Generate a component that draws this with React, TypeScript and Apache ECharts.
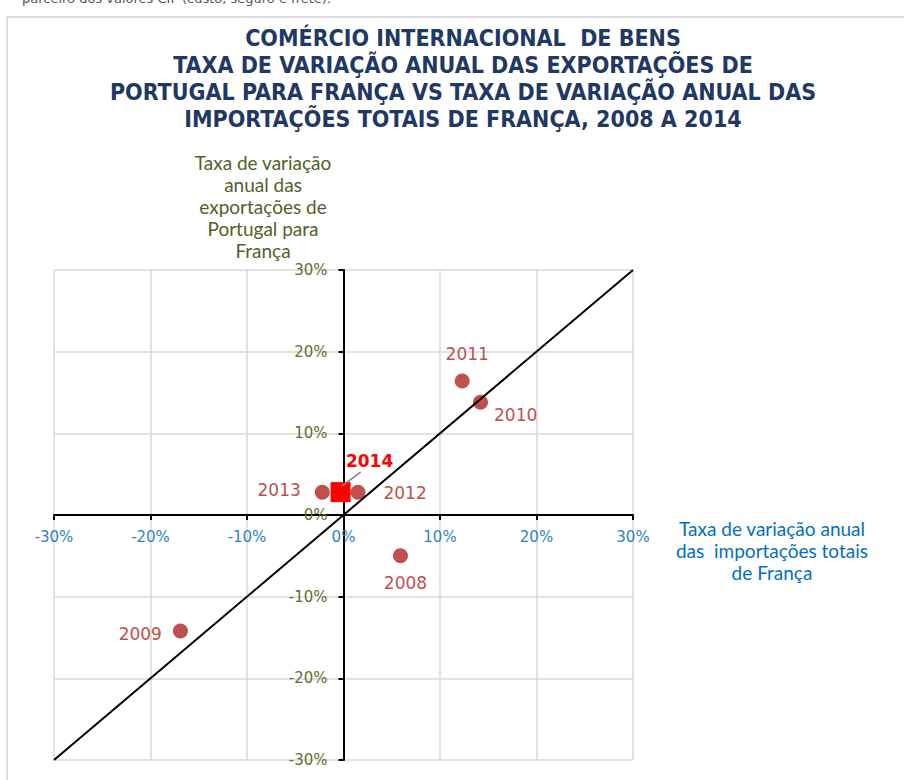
import React, { useEffect, useRef } from 'react';
import * as echarts from 'echarts';

// Data (percent)
const years = ['2008', '2009', '2010', '2011', '2012', '2013'];
const importsFrance = [5.9, -16.9, 14.2, 12.3, 1.5, -2.2];
const exportsPortugal = [-5.0, -14.2, 13.8, 16.4, 2.8, 2.8];
const highlightYear = '2014';
const highlightImports = -0.3;
const highlightExports = 2.8;
const diagonalX = [-30, 30];
const diagonalY = [-30, 30];
const axisMin = -30;
const axisMax = 30;
const axisStep = 10;

const titleLines = [
  'COMÉRCIO INTERNACIONAL  DE BENS',
  'TAXA DE VARIAÇÃO ANUAL DAS EXPORTAÇÕES DE',
  'PORTUGAL PARA FRANÇA VS TAXA DE VARIAÇÃO ANUAL DAS',
  'IMPORTAÇÕES TOTAIS DE FRANÇA, 2008 A 2014',
];
const yTitleLines = ['Taxa de variação', 'anual das', 'exportações de', 'Portugal para', 'França'];
const xTitleLines = ['Taxa de variação anual', 'das  importações totais', 'de França'];
const topNote = 'parceiro dos valores CIF (custo, seguro e frete).';

// label placement per point (style, not data)
const labelPlacement: any[] = [
  { position: 'bottom', distance: 11, offset: [5, 0] },
  { position: 'left', distance: 11, offset: [0, 3] },
  { position: 'right', distance: 6, offset: [0, 13] },
  { position: 'top', distance: 11, offset: [5, 0] },
  { position: 'right', distance: 18, offset: [0, 1] },
  { position: 'left', distance: 14, offset: [0, -2] },
];

const POINT_COLOR = '#c0504d';
const GRID = { left: 54, right: 271, top: 270, bottom: 20 };
const W = 904;
const H = 780;
const gridW = W - GRID.left - GRID.right;
const gridH = H - GRID.top - GRID.bottom;
// where zero sits inside the grid
const zeroFromBottom = (gridH * (0 - axisMin)) / (axisMax - axisMin);
const zeroFromLeft = (gridW * (0 - axisMin)) / (axisMax - axisMin);

function buildGraphic(leader?: number[]) {
  const g: any[] = [
    {
      id: 'frame',
      type: 'rect',
      shape: { x: 7, y: 17, width: 1000, height: 900 },
      style: { fill: 'none', stroke: '#d4d4d4', lineWidth: 1.5 },
      silent: true,
    },
    {
      id: 'note',
      type: 'text',
      x: 22,
      y: -8,
      style: { text: topNote, fill: '#555', font: '13px "DejaVu Sans"' },
    },
    {
      id: 'title',
      type: 'text',
      x: 463,
      y: 24,
      style: {
        text: titleLines.join('\n'),
        fill: '#1f3864',
        font: 'bold 23px "DejaVu Sans Condensed"',
        align: 'center',
        lineHeight: 27,
      },
    },
    {
      id: 'ytitle',
      type: 'text',
      x: 263,
      y: 151,
      style: {
        text: yTitleLines.join('\n'),
        fill: '#4f6228',
        font: '19px Lato',
        align: 'center',
        lineHeight: 22,
      },
    },
    {
      id: 'xtitle',
      type: 'text',
      x: 772,
      y: 517,
      style: {
        text: xTitleLines.join('\n'),
        fill: '#0070c0',
        font: '19px Lato',
        align: 'center',
        lineHeight: 22,
      },
    },
  ];
  if (leader) {
    g.push({
      id: 'leader',
      type: 'line',
      shape: { x1: leader[0] + 1, y1: leader[1] - 6, x2: leader[0] + 20, y2: leader[1] - 20 },
      style: { stroke: '#808080', lineWidth: 1.5 },
      z: 10,
      silent: true,
    });
  }
  return g;
}

export default function App() {
  const ref = useRef<HTMLDivElement>(null);
  useEffect(() => {
    const chart = echarts.init(ref.current!, null, { renderer: 'svg' });
    const pts = years.map((y, i) => ({
      name: y,
      value: [importsFrance[i], exportsPortugal[i]],
      label: {
        show: true,
        formatter: y,
        position: labelPlacement[i].position,
        distance: labelPlacement[i].distance,
        offset: labelPlacement[i].offset,
      },
    }));
    const option: any = {
      animation: false,
      grid: { ...GRID, containLabel: false, outerBoundsMode: 'none' },
      xAxis: {
        type: 'value',
        position: 'bottom',
        offset: -zeroFromBottom,
        min: axisMin,
        max: axisMax,
        interval: axisStep,
        axisLine: { onZero: false, lineStyle: { color: '#000', width: 2 } },
        axisTick: { show: true, length: 5, lineStyle: { color: '#000', width: 2 } },
        axisLabel: {
          formatter: '{value}%',
          color: '#2f82c8',
          fontFamily: 'DejaVu Sans',
          fontSize: 15,
          margin: 14,
        },
        splitLine: { show: true, lineStyle: { color: '#d9d9d9', width: 1.5 } },
      },
      yAxis: {
        type: 'value',
        position: 'left',
        offset: -zeroFromLeft,
        min: axisMin,
        max: axisMax,
        interval: axisStep,
        axisLine: { onZero: false, lineStyle: { color: '#000', width: 2 } },
        axisTick: { show: true, length: 5, lineStyle: { color: '#000', width: 2 } },
        axisLabel: {
          formatter: '{value}%',
          color: '#5f7030',
          fontFamily: 'DejaVu Sans',
          fontSize: 15,
          margin: 16,
        },
        splitLine: { show: true, lineStyle: { color: '#d9d9d9', width: 1.5 } },
      },
      graphic: buildGraphic(),
      series: [
        {
          type: 'line',
          data: diagonalX.map((x, i) => [x, diagonalY[i]]),
          symbol: 'none',
          lineStyle: { color: '#000', width: 2 },
          z: 4,
          silent: true,
        },
        {
          type: 'scatter',
          data: pts,
          symbol: 'circle',
          symbolSize: 15,
          itemStyle: { color: POINT_COLOR, opacity: 1 },
          label: {
            color: POINT_COLOR,
            fontFamily: 'DejaVu Sans',
            fontSize: 17,
          },
          z: 3,
        },
        {
          type: 'scatter',
          data: [
            {
              name: highlightYear,
              value: [highlightImports, highlightExports],
            },
          ],
          symbol: 'rect',
          symbolSize: 20,
          itemStyle: { color: '#ff0000', opacity: 1 },
          label: {
            show: true,
            formatter: highlightYear,
            position: 'top',
            distance: 5,
            offset: [29, -8],
            color: '#ff0000',
            fontWeight: 'bold',
            fontFamily: 'DejaVu Sans',
            fontSize: 17,
          },
          z: 5,
        },
      ],
    };
    chart.setOption(option);
    const p = chart.convertToPixel({ seriesIndex: 2 }, [highlightImports, highlightExports]) as number[];
    if (p && isFinite(p[0])) {
      chart.setOption({ graphic: buildGraphic(p) });
    }
    return () => chart.dispose();
  }, []);
  return (
    <div
      ref={ref}
      style={{ position: 'absolute', left: 0, top: 0, width: W, height: H }}
    />
  );
}
